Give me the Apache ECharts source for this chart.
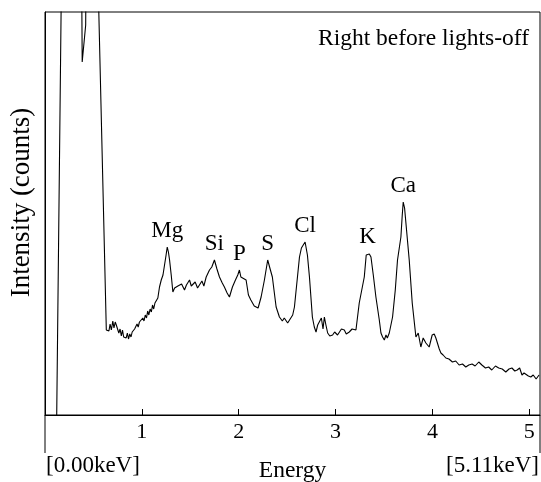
<!DOCTYPE html>
<html>
<head>
<meta charset="utf-8">
<script src="https://cdn.jsdelivr.net/npm/echarts@6/dist/echarts.min.js"></script>
<style>
  html, body { margin: 0; padding: 0; background: #fff; }
  #chart { width: 541px; height: 482px; }
</style>
</head>
<body>
<div id="chart"></div>
<script>
// energy in keV, counts in arbitrary units
const energy = [
  0.121, 0.30, 0.384, 0.42, 0.46, 0.50, 0.633,
  0.646, 0.66, 0.672, 0.685, 0.70, 0.712, 0.725, 0.736, 0.75, 0.762, 0.775, 0.788, 0.80, 0.812, 0.825, 0.838, 0.85, 0.862, 0.875, 0.888, 0.90, 0.912, 0.925, 0.938, 0.95, 0.962, 0.975, 0.99,
  1.010, 1.022, 1.035, 1.048, 1.06, 1.072, 1.085, 1.098, 1.11, 1.122, 1.135, 1.148, 1.165, 1.182, 1.200, 1.218, 1.234, 1.25, 1.262, 1.274, 1.286, 1.303, 1.320,
  1.338, 1.355, 1.372, 1.389, 1.41, 1.44, 1.46, 1.492, 1.51, 1.523, 1.55, 1.575, 1.595, 1.62, 1.64, 1.664,
  1.698, 1.722, 1.749, 1.775, 1.801, 1.83, 1.852, 1.88, 1.904, 1.935, 1.966, 1.99, 2.007, 2.022, 2.038, 2.076, 2.10, 2.125, 2.141, 2.16, 2.179, 2.20, 2.231, 2.265, 2.299, 2.327, 2.347, 2.386, 2.420,
  2.45, 2.47, 2.489, 2.505, 2.523, 2.557, 2.575, 2.627, 2.647, 2.685, 2.709, 2.730, 2.760, 2.780, 2.798, 2.815, 2.832, 2.853, 2.870, 2.884, 2.900, 2.918,
  2.94, 2.969, 2.99, 3.007, 3.02, 3.038, 3.06, 3.090, 3.11, 3.141, 3.17, 3.19, 3.210, 3.244, 3.296, 3.316, 3.330, 3.348, 3.365, 3.389, 3.416, 3.451, 3.468, 3.485, 3.503, 3.52, 3.534, 3.554, 3.588,
  3.616, 3.639, 3.674, 3.688, 3.698, 3.712, 3.726, 3.760, 3.791, 3.829, 3.853, 3.880, 3.904, 3.932, 3.966, 3.997, 4.018, 4.035, 4.052, 4.07, 4.087,
  4.11, 4.138, 4.17, 4.206, 4.24, 4.275, 4.31, 4.344, 4.375, 4.409, 4.44, 4.478, 4.51, 4.547, 4.58, 4.612, 4.65, 4.684, 4.72, 4.757, 4.79, 4.820, 4.85, 4.874, 4.90, 4.924, 4.945, 4.963, 4.99, 5.015, 5.04, 5.070, 5.10
]
const counts = [
  0, 1600, 353, 390, 1100, 630, 85,
  87, 84, 91, 85, 94, 87, 93, 90, 89, 82, 86, 79, 85, 78, 80, 77, 82, 76, 81, 78, 83, 81, 86, 85, 91, 88, 93, 91,
  97, 94, 100, 97, 104, 100, 106, 103, 110, 106, 112, 110, 117, 128, 135, 140, 150, 160, 168, 163, 155, 140, 123,
  127, 125, 129, 127, 131, 125, 130, 135, 129, 128, 133, 127, 128, 134, 129, 138,
  145, 148, 155, 146, 138, 132, 128, 122, 118, 128, 135, 140, 145, 138, 137, 135, 120, 115, 113, 109, 110, 107, 118, 135, 155, 145, 138, 108, 98,
  94, 97, 95, 92, 93, 100, 108, 158, 167, 173, 160, 138, 98, 88, 83, 90, 92, 97, 86, 98, 90, 82,
  79, 80, 83, 84, 80, 82, 86, 85, 81, 83, 86, 84, 85, 112, 138, 160, 162, 161, 158, 140, 118, 95, 82, 78, 75, 80, 77, 82, 98,
  125, 155, 178, 200, 213, 207, 205, 155, 112, 78, 82, 68, 77, 72, 68, 80, 81, 77, 75, 66, 62,
  60, 57, 56, 53, 54, 50, 51, 48, 50, 51, 49, 53, 50, 47, 48, 45, 49, 47, 46, 43, 46, 47, 44, 45, 47, 40, 42, 42, 39, 38, 40, 36, 40
]

const peakNames = ['Mg', 'Si', 'P', 'S', 'Cl', 'K', 'Ca']
const peakEnergy = [1.262, 1.749, 2.007, 2.299, 2.685, 3.330, 3.698]
const peakCounts = [168, 155, 145, 155, 173, 162, 213]

const xTicks = [1, 2, 3, 4, 5]
const rangeLabels = ['[0.00keV]', '[5.11keV]']

const font = 'Liberation Serif'
const chart = echarts.init(document.getElementById('chart'))

const option = {
  animation: false,
  title: {
    text: 'Right before lights-off',
    right: 7,
    top: 22,
    textStyle: { fontFamily: font, fontSize: 23.5, fontWeight: 'normal', color: '#000' }
  },
  grid: {
    left: 45, right: 1, top: 12, bottom: 67,
    outerBoundsMode: 'none',
    containLabel: false,
    show: true, borderColor: '#000', borderWidth: 1
  },
  xAxis: {
    type: 'value',
    min: 0,
    max: 5.11,
    name: 'Energy',
    nameLocation: 'middle',
    nameGap: 44,
    nameTextStyle: { fontFamily: font, fontSize: 23.5, color: '#000' },
    axisLine: { lineStyle: { color: '#000', width: 1 } },
    axisTick: { inside: true, length: 6, customValues: xTicks, lineStyle: { color: '#000' } },
    axisLabel: { customValues: xTicks, fontFamily: font, fontSize: 22, color: '#000', margin: 6 },
    splitLine: { show: false }
  },
  yAxis: {
    type: 'value',
    min: 0,
    max: 403,
    name: 'Intensity (counts)',
    nameLocation: 'middle',
    nameGap: 9.5,
    nameTextStyle: { fontFamily: font, fontSize: 27, color: '#000', padding: [0, 0, 0, 22] },
    axisLine: { show: true, lineStyle: { color: '#000' } },
    axisTick: { show: false },
    axisLabel: { show: false },
    splitLine: { show: false }
  },
  series: [{
    type: 'line',
    data: energy.map((e, i) => [e, counts[i]]),
    showSymbol: false,
    clip: true,
    lineStyle: { color: '#000', width: 1.1 },
    markPoint: {
      symbol: 'rect',
      symbolSize: 1,
      itemStyle: { color: 'rgba(0,0,0,0)' },
      label: {
        show: true, position: 'top', distance: 4,
        formatter: '{b}', fontFamily: font, fontSize: 23, color: '#000'
      },
      data: peakNames.map((n, i) => ({ name: n, coord: [peakEnergy[i], peakCounts[i]] }))
    }
  }],
  graphic: [
    { type: 'line', shape: { x1: 45, y1: 415, x2: 45, y2: 453 }, style: { stroke: '#000', lineWidth: 1 } },
    { type: 'line', shape: { x1: 540, y1: 415, x2: 540, y2: 453 }, style: { stroke: '#000', lineWidth: 1 } },
    { type: 'text', left: 46, top: 454, style: { text: rangeLabels[0], font: '23px "Liberation Serif"', fill: '#000' } },
    { type: 'text', right: 2, top: 454, style: { text: rangeLabels[1], font: '23px "Liberation Serif"', fill: '#000' } }
  ]
}

chart.setOption(option)
</script>
</body>
</html>
